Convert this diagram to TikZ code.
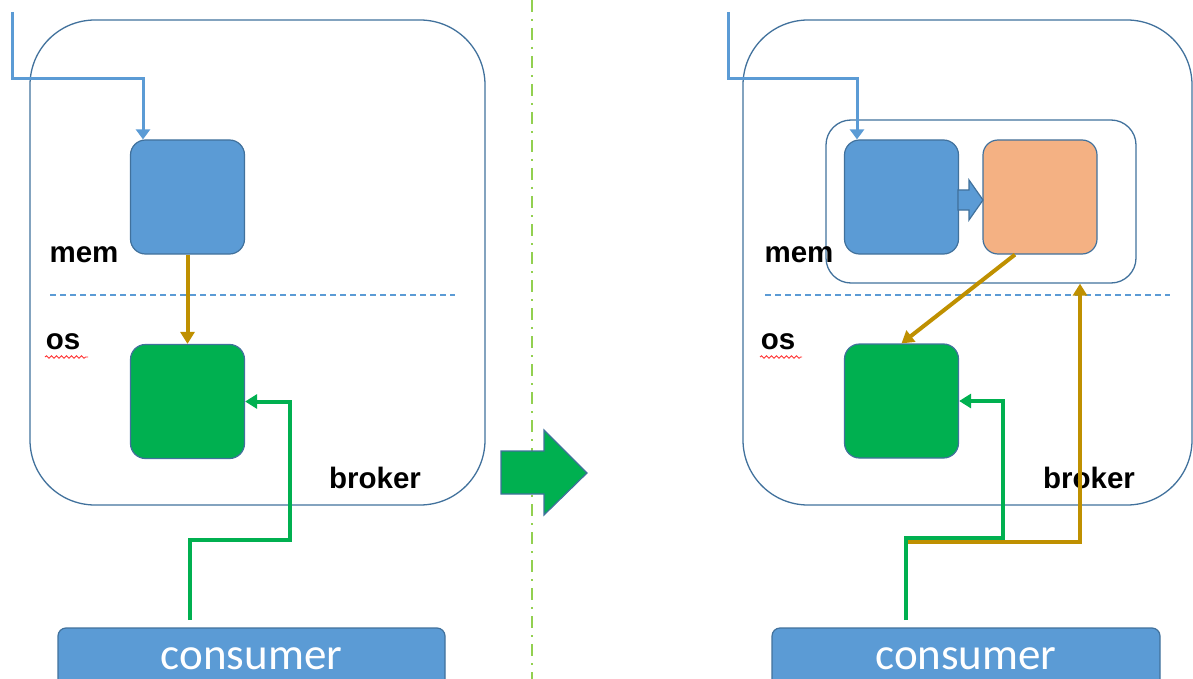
\documentclass[tikz,border=0pt]{standalone}
\usepackage{fontspec}
\setmainfont{Liberation Sans}
\newfontfamily\calib{Carlito}
\usetikzlibrary{arrows.meta,calc,positioning,decorations.pathmorphing}
\definecolor{boxblue}{HTML}{5B9BD5}
\definecolor{edgeblue}{HTML}{41719C}
\definecolor{boxgreen}{HTML}{00B050}
\definecolor{boxorange}{HTML}{F4B183}
\definecolor{gold}{HTML}{BF9000}
\definecolor{limegreen}{HTML}{92D050}

\begin{document}
\begin{tikzpicture}[x=1pt,y=-1pt,
    broker/.style={draw=edgeblue, line width=1.3pt, rounded corners=65pt, minimum width=#1, minimum height=485, inner sep=0},
    cache/.style={draw=edgeblue, line width=1.2pt, fill=#1, rounded corners=15pt, minimum width=114, minimum height=114, inner sep=0},
    consumerbar/.style={draw=edgeblue, line width=1.2pt, fill=boxblue, rounded corners=8pt, minimum width=387, minimum height=62, inner sep=0, text=white, font=\calib\fontsize{45}{50}\selectfont},
    lbl/.style={font=\bfseries\fontsize{29.5}{34}\selectfont, inner sep=0},
    blueline/.style={draw=boxblue, line width=3pt, -{Triangle[width=14pt,length=10pt]}},
    goldline/.style={draw=gold, line width=4pt, -{Triangle[width=14pt,length=12pt]}},
    greenline/.style={draw=boxgreen, line width=4pt, -{Triangle[width=14pt,length=12pt]}},
    layerline/.style={draw=boxblue, line width=1.2pt, dash pattern=on 6pt off 4pt},
    squiggle/.style={draw=red!80, line width=0.9pt, decorate, decoration={snake, segment length=5pt, amplitude=1.2pt}}]
\useasboundingbox (0,0) rectangle (1193,679);

% left: before
\node[broker=455] (brokerL) at (257.5,262.5) {};
\node[cache=boxblue] (blueL) at (187.5,197) {};
\node[cache=boxgreen] (greenL) at (187.5,401.5) {};
\node[lbl] (memL) at (84,255) {mem};
\node[lbl] (osL) at (63,342) {os};
\node[lbl] (brokerLtxt) at (375,478) {broker};
\node[consumerbar] (consL) at (251.5,659) {consumer};
\draw[squiggle] (45,357) -- (88,357);
\draw[layerline] (50,295) -- (455,295);

\coordinate (bL0) at (12,12);
\coordinate (bL1) at (143,79);
\draw[blueline] (bL0) |- (bL1) -- (bL1 |- blueL.north);
\draw[goldline] (blueL.south) -- (greenL.north);
\coordinate (gL0) at (190,620);
\coordinate (gL1) at (290,540);
\draw[greenline] (gL0) |- (gL1) |- (greenL.east);

% divider and big arrow
\draw[limegreen, line width=2.5pt, dash pattern=on 12pt off 7pt on 2pt off 7pt] (532,0) -- (532,679);
\draw[edgeblue, line width=1.2pt, fill=boxgreen] (501,451) -- (544,451) -- (544,430) -- (587,473) -- (544,515) -- (544,494) -- (501,494) -- cycle;

% right: after
\node[broker=449] (brokerR) at (967.5,262.5) {};
\node[draw=edgeblue, line width=1.3pt, rounded corners=25pt, minimum width=310, minimum height=163, inner sep=0] (memgrp) at (981,201.5) {};
\node[cache=boxblue] (blueR) at (901.5,197) {};
\node[cache=boxorange] (orangeR) at (1040,197) {};
\node[cache=boxgreen] (greenR) at (901.5,401) {};
\node[lbl] (memR) at (799,255) {mem};
\node[lbl] (osR) at (778,342) {os};
\node[lbl] (brokerRtxt) at (1089,478) {broker};
\node[consumerbar, minimum width=388] (consR) at (966,659) {consumer};
\draw[squiggle] (760,357) -- (802,357);
\draw[layerline] (765,295) -- (1170,295);
\draw[edgeblue, line width=1.2pt, fill=boxblue] (958,190) -- (969,190) -- (969,180) -- (983,200) -- (969,220) -- (969,210) -- (958,210) -- cycle;

\coordinate (bR0) at (728,12);
\coordinate (bR1) at (857,79);
\draw[blueline] (bR0) |- (bR1) -- (bR1 |- blueR.north);
\draw[goldline] ([xshift=-25pt]orangeR.south) -- (greenR.north);
\coordinate (yR0) at (906,542);
\coordinate (yR1) at (1080,542);
\draw[goldline] (yR0) -- (yR1) -- (yR1 |- memgrp.south);
\coordinate (gR0) at (906,620);
\coordinate (gR1) at (1003,538);
\draw[greenline] (gR0) |- (gR1) |- (greenR.east);
\end{tikzpicture}
\end{document}
